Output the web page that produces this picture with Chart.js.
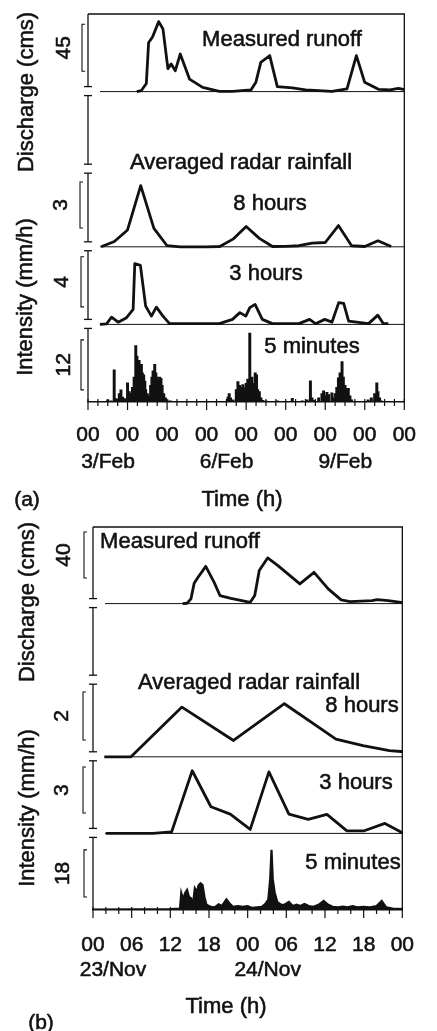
<!DOCTYPE html>
<html><head><meta charset="utf-8">
<script src="https://cdn.jsdelivr.net/npm/chart.js@4.4.1/dist/chart.umd.min.js"></script>
<style>
html,body{margin:0;padding:0;background:#fff;width:437px;height:1031px;overflow:hidden}
#ca{position:absolute;left:0;top:0}
#cb{position:absolute;left:0;top:515px}
</style></head><body>
<canvas id="ca" width="437" height="515"></canvas>
<canvas id="cb" width="437" height="516"></canvas>
<script>
// ---------- Panel (a): 3-11 Feb, hours from 3/Feb 00 ----------
const tickDayLabelsA = ['3/Feb', '6/Feb', '9/Feb'];
const tickDayHoursA = [0, 72, 144];
const hoursDischargeA = [29.6, 32.4, 35.4, 36.8, 39.1, 42.9, 45.5, 48.5, 50.5, 53, 56, 61.6, 69.6, 79.7, 87.7, 98.9, 101.9, 104.9, 110.3, 114.9, 124, 132.1, 148.1, 157.2, 162.9, 167.9, 176.3, 183.4, 188.4, 191.4, 192];
const dischargeA = [0, 1, 7.7, 47, 52, 67, 60, 22, 26.5, 20, 36, 12, 4, 0.3, 0.3, 1.6, 9, 28, 34.5, 4.8, 3.5, 1.6, 0.3, 2.6, 34.5, 9, 2.2, 1.6, 3.2, 2.2, 2.2];
const hours8A = [8, 16, 24, 32, 40, 48, 56, 64, 72, 80, 88, 96, 104, 112, 120, 128, 136, 144, 152, 160, 168, 176, 184];
const rain8A = [0, 0.35, 1.1, 4.0, 1.2, 0.07, 0, 0, 0, 0.02, 0.5, 1.33, 0.55, 0.02, 0.03, 0.07, 0.24, 0.28, 1.39, 0.07, 0.02, 0.39, 0.02];
const hours3A = [7.2, 11.3, 14.3, 18.3, 23.4, 27.4, 28.4, 31.8, 35, 38.5, 41.5, 45.5, 49.5, 79.7, 87.7, 92.2, 95.8, 98.2, 101.4, 105.8, 111.9, 128, 134.5, 138.1, 143.7, 148.1, 152.2, 155.2, 158.2, 170.3, 175.9, 179.3, 182.3];
const rain3A = [0, 0.05, 0.58, 0.18, 0.54, 1.2, 4.86, 4.72, 1.46, 0.66, 1.38, 0.66, 0.06, 0.06, 0.4, 0.94, 0.66, 1.34, 1.6, 0.4, 0.06, 0.06, 0.4, 0.06, 0.4, 0.18, 1.74, 1.68, 0.26, 0.06, 0.74, 0.06, 0.06];
const hours5A = [12, 14, 15.9, 17, 19, 20, 21, 22.5, 24, 25, 26, 27, 28, 29, 29.7, 30.3, 31, 31.7, 32.4, 33, 33.8, 34.5, 35, 36, 37, 38, 38.8, 39.5, 40.5, 41.2, 42, 42.8, 43.5, 44.3, 45, 46, 47, 48, 50,
  85, 85.7, 86.5, 88, 90, 91, 92, 93, 94, 95, 96, 97, 98.2, 98.8, 99.5, 100.5, 101.5, 102.3, 103, 104, 105, 106, 108,
  115, 124, 130, 133, 135, 136, 137, 140, 142, 143, 144, 145, 146, 148, 149, 150, 151, 152, 153, 154.2, 155, 156, 157, 158, 159, 160, 170, 172, 174, 175.3, 176, 177, 178];
const rain5A = [0.5, 0.3, 7.7, 0.8, 2.0, 2.9, 1.2, 0.8, 4.6, 2.5, 2.0, 3.5, 6, 13.5, 11, 9, 10, 8, 9, 7, 6.5, 5, 3, 2, 1.5, 4, 6, 7.5, 9, 7, 6, 5, 6, 5.7, 4, 2, 1, 0.5, 0.3,
  1.2, 2, 1, 0.5, 3, 4.9, 4.0, 3.5, 4.2, 3.4, 4.5, 5.5, 16.5, 5, 6, 4.5, 7, 6.5, 3, 2.5, 1, 0.4, 0.3,
  0.3, 0.9, 0.3, 0.5, 5.1, 1, 0.4, 1, 2, 2.7, 1.5, 2.3, 1.8, 2.2, 1, 2, 3.5, 5.8, 7, 9.7, 6, 4, 3.3, 3.3, 1.5, 0.5, 0.5, 1, 2, 4.6, 2.5, 1, 0.3];

// ---------- Panel (b): 23-24 Nov, hours from 23/Nov 00 ----------
const tickDayLabelsB = ['23/Nov', '24/Nov'];
const tickDayHoursB = [0, 24];
const hoursDischargeB = [13.9, 14.6, 15.2, 15.7, 16.3, 17.5, 18.8, 19.7, 21.4, 24.4, 25.1, 25.8, 27.1, 28.7, 32.1, 34.3, 36.5, 38.5, 39.9, 43.3, 44.1, 45.8, 47.8, 48];
const dischargeB = [0, 0.3, 4.1, 17.7, 22.9, 32.4, 18.5, 7, 4.6, 1.1, 7, 28.7, 39.7, 33, 17.1, 27.2, 12.8, 3.2, 1.7, 2.6, 3.5, 2.6, 1.1, 1];
const hours8B = [1.75, 5.9, 13.8, 21.8, 29.7, 37.7, 41.9, 46, 47.8, 48];
const rain8B = [0, 0, 2.07, 0.68, 2.21, 0.74, 0.47, 0.26, 0.22, 0.22];
const hours3B = [2.0, 9.3, 12.2, 15.4, 18.3, 21.3, 24.4, 27.3, 30.4, 33.4, 36.3, 39.4, 42.1, 45.3, 48];
const rain3B = [0, 0, 0.1, 4.09, 1.74, 1.26, 0.26, 4.02, 1.26, 0.92, 1.24, 0.17, 0.17, 0.65, 0.04];
const hours5B = [0, 12, 13.5, 13.7, 14.0, 14.3, 14.6, 14.9, 15.2, 15.5, 15.8, 16.1, 16.4, 16.7, 17.0, 17.3, 17.6, 18.0, 18.5, 19.0, 19.5, 20.0, 20.7, 21.2, 21.7, 22.5, 23.2, 24.0, 24.7, 25.5, 26.2, 26.8, 27.2, 27.5, 27.7, 27.9, 28.2, 28.6, 29.2, 29.7, 30.4, 31.0, 31.6, 32.2, 32.8, 33.5, 34.2, 35.0, 35.8, 36.5, 37.2, 38.0, 38.8, 39.5, 40.3, 41.0, 42.0, 43.0, 44.0, 44.8, 45.5, 46.5, 48];
const rain5B = [0.2, 0.3, 0.5, 6.5, 4, 6.5, 7.7, 5, 4.5, 2, 8.3, 7, 9.5, 10.2, 9.5, 5, 2, 1.5, 1, 1.2, 2.2, 1.5, 4.1, 2.5, 1.2, 1.5, 1.2, 1.5, 0.8, 1, 1.2, 2.5, 4, 12, 23, 11.7, 6.6, 3, 2, 2, 3.1, 1.5, 2, 1.5, 2.3, 1.5, 1.2, 2, 3.5, 2, 1.2, 1, 1.3, 1.0, 1.5, 1, 1.2, 1, 1.5, 3.5, 1, 0.5, 0.3];

const FONT = '"Liberation Sans", Arial, Helvetica, sans-serif';
const INK = '#111';

function pts(xs, ys) { return xs.map((x, i) => ({ x: x, y: ys[i] })); }
function band(k, M) { return { type: 'linear', display: false, min: -(4 - k) * M, max: (k + 1) * M }; }
function lineDs(xs, ys, axis) {
  return { type: 'line', data: pts(xs, ys), yAxisID: axis, borderColor: INK, borderWidth: 2.8,
    pointRadius: 0, tension: 0, fill: false, borderJoinStyle: 'round' };
}

function inkText(ctx, txt, x, y) {
  ctx.fillText(txt, x, y);
  ctx.lineWidth = 0.55; ctx.strokeText(txt, x, y);
}

function decorPlugin(cfg) {
  return {
    id: 'decor',
    afterDraw(chart) {
      const ctx = chart.ctx, a = chart.chartArea, xs = chart.scales.x;
      const h = (a.bottom - a.top) / 5;
      ctx.save();
      ctx.strokeStyle = INK; ctx.fillStyle = INK; ctx.lineCap = 'butt';
      // frame: top + right
      ctx.lineWidth = 1.3;
      ctx.beginPath();
      ctx.moveTo(a.left, a.top); ctx.lineTo(a.right, a.top); ctx.lineTo(a.right, a.bottom);
      ctx.stroke();
      // broken left axis
      for (let k = 0; k < 5; k++) {
        const t = k === 0 ? a.top : a.top + k * h + 4;
        const b = k === 4 ? a.bottom : a.top + (k + 1) * h - 5;
        ctx.beginPath(); ctx.moveTo(a.left, t); ctx.lineTo(a.left, b); ctx.stroke();
        if (k > 0) { ctx.beginPath(); ctx.moveTo(a.left - 4, t); ctx.lineTo(a.left + 4, t); ctx.stroke(); }
        if (k < 4) { ctx.beginPath(); ctx.moveTo(a.left - 4, b); ctx.lineTo(a.left + 4, b); ctx.stroke(); }
      }
      // baselines
      ctx.lineWidth = 1;
      cfg.baselines.forEach(id => {
        const y = chart.scales[id].getPixelForValue(0);
        ctx.beginPath(); ctx.moveTo(a.left + 12, y); ctx.lineTo(a.right, y); ctx.stroke();
      });
      // x tick marks
      ctx.lineWidth = 1.2;
      xs.ticks.forEach(tk => {
        const px = xs.getPixelForValue(tk.value);
        const major = tk.value % cfg.majorEvery === 0;
        ctx.beginPath(); ctx.moveTo(px, a.bottom - 3); ctx.lineTo(px, a.bottom + (major ? 8 : 4)); ctx.stroke();
      });
      // scale brackets
      cfg.brackets.forEach(br => {
        const s = chart.scales[br.axis];
        const y1 = s.getPixelForValue(br.v0), y2 = s.getPixelForValue(br.v0 + br.size);
        const x = a.left - br.dx;
        ctx.lineWidth = 1.1;
        ctx.beginPath();
        ctx.moveTo(x + 3, y2); ctx.lineTo(x, y2); ctx.lineTo(x, y1); ctx.lineTo(x + 3, y1);
        ctx.stroke();
        ctx.save();
        ctx.translate(a.left - br.lx, (y1 + y2) / 2); ctx.rotate(-Math.PI / 2);
        ctx.font = '21px ' + FONT; ctx.textAlign = 'center'; ctx.textBaseline = 'middle';
        inkText(ctx, String(br.size), 0, 0);
        ctx.restore();
      });
      // date labels under ticks
      ctx.font = '21px ' + FONT; ctx.textAlign = 'center'; ctx.textBaseline = 'middle';
      cfg.dayHours.forEach((hv, i) => {
        inkText(ctx, cfg.dayLabels[i], xs.getPixelForValue(hv) + 20, cfg.dateY);
      });
      // free texts
      cfg.texts.forEach(t => {
        ctx.save();
        ctx.font = (t.size || 22) + 'px ' + FONT;
        ctx.textAlign = 'center'; ctx.textBaseline = 'middle';
        ctx.translate(t.x, t.y);
        if (t.rot) ctx.rotate(-Math.PI / 2);
        inkText(ctx, t.t, 0, 0);
        ctx.restore();
      });
      ctx.restore();
    }
  };
}

function xScale(max, step, pad, height, labelFn) {
  return {
    type: 'linear', min: 0, max: max, offset: false,
    grid: { display: false, drawTicks: false, tickLength: 0 },
    border: { display: true, color: INK, width: 1.6 },
    ticks: { stepSize: step, autoSkip: false, maxRotation: 0, minRotation: 0, padding: pad, color: INK,
      font: { family: FONT, size: 21 }, textStrokeColor: INK, textStrokeWidth: 0.55, callback: labelFn },
    afterFit: s => { s.height = height; }
  };
}

// ---- Chart (a)
new Chart(document.getElementById('ca'), {
  type: 'line',
  data: { datasets: [
    lineDs(hoursDischargeA, dischargeA, 'yD'),
    lineDs(hours8A, rain8A, 'y8'),
    lineDs(hours3A, rain3A, 'y3'),
    { type: 'bar', data: pts(hours5A, rain5A), yAxisID: 'y5', backgroundColor: INK, borderWidth: 0, barThickness: 2.3 }
  ] },
  options: {
    responsive: false, animation: false, events: [],
    layout: { padding: { left: 88, right: 31, top: 14, bottom: 0 } },
    plugins: { legend: { display: false }, tooltip: { enabled: false } },
    scales: {
      x: xScale(192, 6, 21, 113, v => (v % 24 === 0 ? '00' : '')),
      yD: band(0, 74.3), y8: band(2, 5.07), y3: band(3, 6.2), y5: band(4, 18.6)
    }
  },
  plugins: [decorPlugin({
    baselines: ['yD', 'y8', 'y3'], majorEvery: 24,
    dayHours: tickDayHoursA, dayLabels: tickDayLabelsA, dateY: 462,
    brackets: [
      { axis: 'yD', v0: 19.5, size: 45, dx: 6, lx: 24 },
      { axis: 'y8', v0: 1.23, size: 3, dx: 8, lx: 27 },
      { axis: 'y3', v0: 1.4, size: 4, dx: 7, lx: 26 },
      { axis: 'y5', v0: 2.9, size: 12, dx: 7, lx: 24 }
    ],
    texts: [
      { t: 'Measured runoff', x: 282, y: 40 },
      { t: 'Averaged radar rainfall', x: 241, y: 163 },
      { t: '8 hours', x: 270, y: 204 },
      { t: '3 hours', x: 266, y: 274 },
      { t: '5 minutes', x: 312, y: 347 },
      { t: 'Discharge (cms)', x: 27, y: 92, rot: true },
      { t: 'Intensity (mm/h)', x: 26, y: 297, rot: true },
      { t: 'Time (h)', x: 242, y: 500 },
      { t: '(a)', x: 27, y: 500, size: 21 }
    ]
  })]
});

// ---- Chart (b)
new Chart(document.getElementById('cb'), {
  type: 'line',
  data: { datasets: [
    lineDs(hoursDischargeB, dischargeB, 'yD'),
    lineDs(hours8B, rain8B, 'y8'),
    lineDs(hours3B, rain3B, 'y3'),
    { type: 'line', data: pts(hours5B, rain5B), yAxisID: 'y5', borderColor: INK, borderWidth: 2.2,
      backgroundColor: INK, fill: 'origin', pointRadius: 0, tension: 0 }
  ] },
  options: {
    responsive: false, animation: false, events: [],
    layout: { padding: { left: 93, right: 15, top: 12, bottom: 0 } },
    plugins: { legend: { display: false }, tooltip: { enabled: false }, filler: { propagate: false } },
    scales: {
      x: xScale(48, 2, 23, 121, v => (v % 6 === 0 ? String(v % 24).padStart(2, '0') : '')),
      yD: band(0, 66.6), y8: band(2, 3.19), y3: band(3, 5.0), y5: band(4, 29.3)
    }
  },
  plugins: [decorPlugin({
    baselines: ['yD', 'y8', 'y3'], majorEvery: 6,
    dayHours: tickDayHoursB, dayLabels: tickDayLabelsB, dateY: 455,
    brackets: [
      { axis: 'yD', v0: 22.3, size: 40, dx: 9, lx: 29 },
      { axis: 'y8', v0: 0.7, size: 2, dx: 10, lx: 31 },
      { axis: 'y3', v0: 1.33, size: 3, dx: 10, lx: 31 },
      { axis: 'y5', v0: 5, size: 18, dx: 9, lx: 30 }
    ],
    texts: [
      { t: 'Measured runoff', x: 180, y: 27 },
      { t: 'Averaged radar rainfall', x: 249, y: 168 },
      { t: '8 hours', x: 362, y: 191 },
      { t: '3 hours', x: 356, y: 268 },
      { t: '5 minutes', x: 353, y: 348 },
      { t: 'Discharge (cms)', x: 28, y: 87, rot: true },
      { t: 'Intensity (mm/h)', x: 28, y: 293, rot: true },
      { t: 'Time (h)', x: 226, y: 492 },
      { t: '(b)', x: 41, y: 508, size: 21 }
    ]
  })]
});
</script>
</body></html>
